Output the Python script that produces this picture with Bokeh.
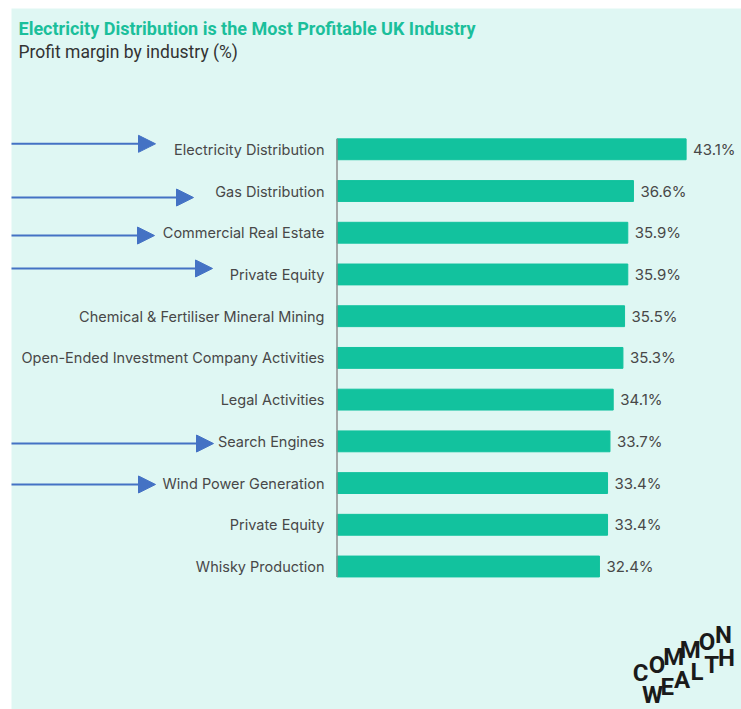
from bokeh.plotting import figure
from bokeh.models import Range1d, Arrow, NormalHead, Label, ColumnDataSource
from bokeh.embed import file_html
from bokeh.resources import INLINE
from bokeh.core.properties import value

# ---------------- data ----------------
categories = [
    "Electricity Distribution",
    "Gas Distribution",
    "Commercial Real Estate",
    "Private Equity",
    "Chemical & Fertiliser Mineral Mining",
    "Open-Ended Investment Company Activities",
    "Legal Activities",
    "Search Engines",
    "Wind Power Generation",
    "Private Equity",
    "Whisky Production",
]
margins = [43.1, 36.6, 35.9, 35.9, 35.5, 35.3, 34.1, 33.7, 33.4, 33.4, 32.4]
value_labels = [f"{v:.1f}%" for v in margins]
arrow_rows = [0, 1, 2, 3, 7, 8]

title_text = "Electricity Distribution is the Most Profitable UK Industry"
subtitle_text = "Profit margin by industry (%)"
logo_words = ["COMMON", "WEALTH"]

# ---------------- layout constants ----------------
W, H = 741, 709
FRAME_L, FRAME_R, FRAME_T, FRAME_B = 11, 741, 8, 709   # page pixels
ZERO_PX, SX = 336.5, 8.1          # x=0 page position, px per percent
ROW0_PY, SY = 148.8, 41.72        # first row centre, px per row

def px_to_x(px):
    return (px - ZERO_PX) / SX

def py_to_y(py):
    return (py - ROW0_PY) / SY

BG = "#DFF7F3"
BAR = "#12C29E"
TEXT = "#484848"
BLUE = "#4472C4"

p = figure(
    width=W, height=H,
    x_range=Range1d(px_to_x(FRAME_L), px_to_x(FRAME_R)),
    y_range=Range1d(py_to_y(FRAME_B), py_to_y(FRAME_T)),
    output_backend="svg", toolbar_location=None,
    min_border_left=FRAME_L, min_border_right=0,
    min_border_top=FRAME_T, min_border_bottom=0,
    x_axis_location=None, y_axis_location=None,
    background_fill_color=BG, border_fill_color="white",
    outline_line_color=None,
)
p.grid.visible = False

rows = list(range(len(categories)))
src = ColumnDataSource(dict(y=rows, cat=categories, v=margins, lab=value_labels))

BAR_H = 0.5
p.hbar(y="y", left=0, right="v", height=BAR_H, source=src, color=BAR)

# vertical axis line
p.segment(x0=[0], y0=[-BAR_H / 2], x1=[0], y1=[len(categories) - 1 + BAR_H / 2],
          line_color="#8C8C8C", line_width=1.5)

# category labels
p.text(x=px_to_x(324), y="y", text="cat", source=src, text_align="right",
       text_baseline="middle", text_font=value("Inter"), text_font_size="14.5px",
       text_color=TEXT)

# value labels
p.text(x="v", y="y", text="lab", source=src, x_offset=7, text_align="left",
       text_baseline="middle", text_font=value("Inter"), text_font_size="15px",
       text_color=TEXT)

# arrows pointing at highlighted industries
tip_px = [155, 193, 154, 212, 213, 155]
dy_px = [-5.5, 6.5, 2.8, -6.0, 2.2, 1.4]
asrc = ColumnDataSource(dict(
    xs=[px_to_x(9)] * len(arrow_rows),
    xe=[px_to_x(t) for t in tip_px],
    ys=[r + d / SY for r, d in zip(arrow_rows, dy_px)],
))
p.add_layout(Arrow(x_start="xs", y_start="ys", x_end="xe", y_end="ys", source=asrc,
                   line_color=BLUE, line_width=2,
                   end=NormalHead(size=17, fill_color=BLUE, line_color=BLUE, line_width=1)))

# title & subtitle
p.add_layout(Label(x=px_to_x(18), y=py_to_y(28), text=title_text,
                   text_font="Roboto", text_font_size="18px",
                   text_font_style="bold", text_color="#1BBF9B",
                   text_baseline="alphabetic"))
p.add_layout(Label(x=px_to_x(18), y=py_to_y(51), text=subtitle_text,
                   text_font="Roboto", text_font_size="17.5px",
                   text_color="#333333", text_baseline="alphabetic"))

# logo: letters stepped upward to mimic the slanted wordmark
logo_x, logo_y, logo_t = [], [], []
for word, (sx0, sy0, dx, dyy) in zip(logo_words, [(640, 672, 16.6, -7.6), (652, 694, 14.8, -7.4)]):
    for k, ch in enumerate(word):
        logo_x.append(px_to_x(sx0 + k * dx))
        logo_y.append(py_to_y(sy0 + k * dyy))
        logo_t.append(ch)
p.text(x=logo_x, y=logo_y, text=logo_t, text_align="center", text_baseline="middle",
       text_font=value("Roboto"), text_font_style="bold",
       text_font_size="24px", text_color="#1A1A1A")

open("out.html", "w").write(file_html(p, INLINE))
